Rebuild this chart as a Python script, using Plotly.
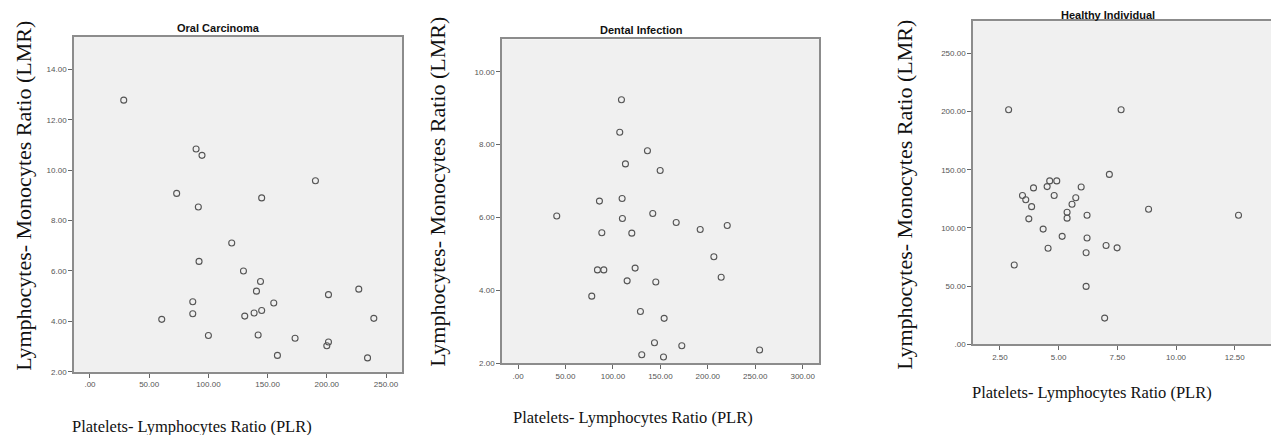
import plotly.graph_objects as go

# ---------------- data ----------------
panel_titles = ["Oral Carcinoma", "Dental Infection", "Healthy Individual"]
x_title = "Platelets- Lymphocytes Ratio (PLR)"
y_title = "Lymphocytes- Monocytes Ratio (LMR)"

oral_plr = [28.5, 89.6, 94.6, 73.2, 91.5, 145.0, 190.4, 119.7, 92.1, 129.6, 144.0, 140.6,
            155.2, 145.0, 138.6, 130.7, 86.8, 86.8, 60.6, 100.0, 142.0, 158.3, 173.2,
            200.0, 201.4, 201.4, 227.0, 239.7, 234.4]
oral_lmr = [12.78, 10.84, 10.59, 9.08, 8.54, 8.90, 9.58, 7.11, 6.38, 6.00, 5.58, 5.20,
            4.73, 4.43, 4.33, 4.21, 4.78, 4.30, 4.08, 3.44, 3.46, 2.65, 3.33,
            3.03, 3.18, 5.06, 5.28, 4.12, 2.55]

dental_plr = [109.0, 107.2, 136.4, 113.2, 149.8, 85.8, 109.7, 40.8, 110.0, 142.0, 166.7,
              192.0, 220.5, 88.3, 119.9, 206.4, 83.7, 90.4, 123.4, 115.0, 145.2, 214.1,
              77.7, 129.0, 154.0, 143.8, 172.6, 130.4, 153.3, 254.6]
dental_lmr = [9.23, 8.34, 7.83, 7.47, 7.29, 6.45, 6.52, 6.04, 5.97, 6.11, 5.86,
              5.67, 5.78, 5.58, 5.57, 4.92, 4.56, 4.56, 4.61, 4.26, 4.23, 4.36,
              3.84, 3.42, 3.23, 2.56, 2.48, 2.23, 2.17, 2.36]

healthy_plr = [2.87, 7.66, 7.16, 4.62, 4.92, 4.51, 3.93, 5.96, 3.46, 3.60, 4.81, 5.73,
               5.57, 3.85, 8.83, 5.36, 6.21, 12.66, 3.73, 5.36, 4.34, 5.15, 4.55, 6.21,
               6.17, 7.02, 7.49, 3.11, 6.17, 6.96]
healthy_lmr = [201.5, 201.5, 146.0, 140.4, 140.4, 135.5, 134.4, 135.2, 127.9, 124.2, 127.9,
               125.9, 120.3, 118.3, 116.0, 113.5, 110.9, 110.9, 107.8, 108.4, 99.0, 92.8,
               82.6, 91.4, 78.7, 84.9, 82.9, 68.2, 49.8, 22.6]

oral_xticks = [0, 50, 100, 150, 200, 250]
oral_xticktext = [".00", "50.00", "100.00", "150.00", "200.00", "250.00"]
oral_yticks = [2, 4, 6, 8, 10, 12, 14]
oral_yticktext = ["2.00", "4.00", "6.00", "8.00", "10.00", "12.00", "14.00"]

dental_xticks = [0, 50, 100, 150, 200, 250, 300]
dental_xticktext = [".00", "50.00", "100.00", "150.00", "200.00", "250.00", "300.00"]
dental_yticks = [2, 4, 6, 8, 10]
dental_yticktext = ["2.00", "4.00", "6.00", "8.00", "10.00"]

healthy_xticks = [2.5, 5, 7.5, 10, 12.5]
healthy_xticktext = ["2.50", "5.00", "7.50", "10.00", "12.50"]
healthy_yticks = [0, 50, 100, 150, 200, 250]
healthy_yticktext = [".00", "50.00", "100.00", "150.00", "200.00", "250.00"]

# ---------------- layout geometry (pixels) ----------------
W, H = 1279, 435

def xdom(l, r):
    return [l / W, r / W]

def ydom(top, bottom):
    return [(H - bottom) / H, (H - top) / H]

panels = [
    dict(x=oral_plr, y=oral_lmr, xd=xdom(66, 394), yd=ydom(29, 368),
         xr=[-13.5, 263.5], yr=[2, 15.3],
         xt=(oral_xticks, oral_xticktext), yt=(oral_yticks, oral_yticktext)),
    dict(x=dental_plr, y=dental_lmr, xd=xdom(494, 811), yd=ydom(31.7, 359.3),
         xr=[-16.9, 317.2], yr=[2, 10.89],
         xt=(dental_xticks, dental_xticktext), yt=(dental_yticks, dental_yticktext)),
    dict(x=healthy_plr, y=healthy_lmr, xd=xdom(965, 1277), yd=ydom(13.3, 340.3),
         xr=[1.353, 14.64], yr=[0, 277.6],
         xt=(healthy_xticks, healthy_xticktext), yt=(healthy_yticks, healthy_yticktext)),
]

fig = go.Figure()
tickfont = dict(family="Liberation Sans Narrow, Arial Narrow, Liberation Sans, Arial", size=8, color="#555555")
layout = {}
for i, p in enumerate(panels):
    sfx = "" if i == 0 else str(i + 1)
    fig.add_trace(go.Scatter(
        x=p["x"], y=p["y"], mode="markers",
        marker=dict(symbol="circle-open", size=6, color="#555555", line=dict(width=1.1)),
        xaxis="x" + sfx, yaxis="y" + sfx, showlegend=False, hoverinfo="x+y"))
    layout["xaxis" + sfx] = dict(
        domain=p["xd"], range=p["xr"], anchor="y" + sfx,
        tickvals=p["xt"][0], ticktext=p["xt"][1], tickfont=tickfont,
        showgrid=False, zeroline=False, showline=True, mirror=True,
        linecolor="#8c8c8c", linewidth=1.5, ticks="outside", ticklen=4,
        tickcolor="#666666", tickwidth=1)
    layout["yaxis" + sfx] = dict(
        domain=p["yd"], range=p["yr"], anchor="x" + sfx,
        tickvals=p["yt"][0], ticktext=p["yt"][1], tickfont=tickfont,
        showgrid=False, zeroline=False, showline=True, mirror=True,
        linecolor="#8c8c8c", linewidth=1.5, ticks="outside", ticklen=4,
        tickcolor="#666666", tickwidth=1)

serif = "Liberation Serif, Times New Roman, serif"
annotations = []
# panel titles
title_pos = [(210, 20), (633, 22), (1100, 7)]
for t, (cx, cy) in zip(panel_titles, title_pos):
    annotations.append(dict(text="<b>" + t + "</b>", x=cx / W, y=(H - cy) / H,
                            xref="paper", yref="paper", xanchor="center", yanchor="middle",
                            showarrow=False,
                            font=dict(family="Liberation Sans Narrow, Arial Narrow, Liberation Sans, Arial",
                                      size=11, color="#111111")))
# x titles
xt_pos = [(184, 423), (625, 414), (1084, 389)]
for cx, cy in xt_pos:
    annotations.append(dict(text=x_title, x=cx / W, y=(H - cy) / H, xref="paper", yref="paper",
                            xanchor="center", yanchor="middle", showarrow=False,
                            font=dict(family=serif, size=16.5, color="#111111")))
# y titles
yt_pos = [(16, 190), (430, 186), (897, 189)]
for cx, cy in yt_pos:
    annotations.append(dict(text=y_title, x=cx / W, y=(H - cy) / H, xref="paper", yref="paper",
                            xanchor="center", yanchor="middle", showarrow=False, textangle=-90,
                            font=dict(family=serif, size=22, color="#111111")))

fig.update_layout(
    width=W, height=H, autosize=False,
    margin=dict(l=0, r=0, t=0, b=0, pad=0),
    paper_bgcolor="white", plot_bgcolor="#f0f0f0",
    annotations=annotations, showlegend=False,
    **layout)

fig.write_html("out.html")
